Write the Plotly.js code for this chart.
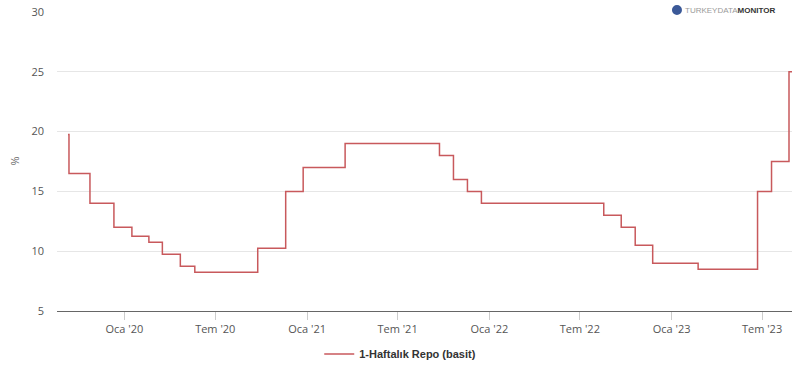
<!DOCTYPE html>
<html>
<head>
<meta charset="utf-8">
<script src="https://cdn.plot.ly/plotly-3.0.1.min.js"></script>
<style>html,body{margin:0;padding:0;background:#fff;}#chart{width:792px;height:365px;}</style>
</head>
<body>
<div id="chart"></div>
<script>
// Policy rate change dates and values (1-week repo, %)
const dates = ["2019-09-10","2019-09-12","2019-10-24","2019-12-11","2020-01-16","2020-02-19","2020-03-17","2020-04-22","2020-05-21","2020-09-24","2020-11-19","2020-12-24","2021-03-18","2021-09-23","2021-10-21","2021-11-18","2021-12-16","2022-08-18","2022-09-22","2022-10-20","2022-11-24","2023-02-23","2023-06-22","2023-07-20","2023-08-24","2023-08-31"];
const rates = [19.75,16.5,14,12,11.25,10.75,9.75,8.75,8.25,10.25,15,17,19,18,16,15,14,13,12,10.5,9,8.5,15,17.5,25,25];
const xTickVals = ["2020-01-01","2020-07-01","2021-01-01","2021-07-01","2022-01-01","2022-07-01","2023-01-01","2023-07-01"];
const xTickText = ["Oca '20","Tem '20","Oca '21","Tem '21","Oca '22","Tem '22","Oca '23","Tem '23"];
const yTickVals = [5,10,15,20,25,30];
const seriesName = "1-Haftalık Repo (basit)";

const trace = {
  x: dates, y: rates, type: "scatter", mode: "lines",
  line: {shape: "hv", color: "#c8595c", width: 1.5},
  name: seriesName, showlegend: true, hoverinfo: "x+y"
};

const logoX = 0.8435, logoY = 1.0066;

const layout = {
  width: 792, height: 365,
  margin: {l: 57, r: 0, t: 12, b: 54, autoexpand: false},
  paper_bgcolor: "#fff", plot_bgcolor: "#fff",
  font: {family: "Open Sans, DejaVu Sans, sans-serif", size: 11, color: "#666"},
  xaxis: {
    type: "date", range: ["2019-08-19", "2023-08-30"],
    tickvals: xTickVals, ticktext: xTickText,
    showgrid: false, zeroline: false, automargin: false,
    showline: true, linecolor: "#666", linewidth: 1,
    ticks: "outside", ticklen: 8, tickcolor: "#ccc", tickwidth: 1,
    tickfont: {family: "Open Sans, DejaVu Sans, sans-serif", size: 11, color: "#555"}
  },
  yaxis: {
    range: [5, 30], tickvals: yTickVals, automargin: false,
    showgrid: true, gridcolor: "#e6e6e6", gridwidth: 1,
    zeroline: false, showline: false, ticks: "",
    ticklabelstandoff: 12,
    tickfont: {family: "Open Sans, DejaVu Sans, sans-serif", size: 11, color: "#555"}
  },
  showlegend: true,
  legend: {
    orientation: "h", x: 0.467, xanchor: "center",
    yref: "container", y: 0.030, yanchor: "middle",
    font: {family: "Liberation Sans, Arial, sans-serif", size: 11, color: "#333", weight: "bold"},
    itemwidth: 30
  },
  shapes: [
    {type: "rect", xref: "paper", yref: "paper", xsizemode: "pixel", ysizemode: "pixel",
     xanchor: logoX, yanchor: logoY, x0: -15, x1: 106, y0: -8, y1: 8,
     fillcolor: "#fff", line: {width: 0}, layer: "above"},
    {type: "circle", xref: "paper", yref: "paper", xsizemode: "pixel", ysizemode: "pixel",
     xanchor: logoX, yanchor: logoY, x0: -5, x1: 5, y0: -5, y1: 5,
     fillcolor: "#3b5998", line: {width: 0}, layer: "above"},
    {type: "path", xref: "paper", yref: "paper", xsizemode: "pixel", ysizemode: "pixel",
     xanchor: logoX, yanchor: logoY,
     path: "M 0 0 L -5 0 A 5 5 0 0 0 0 -5 Z",
     fillcolor: "#d9534f", line: {width: 0}, layer: "above"},
    {type: "path", xref: "paper", yref: "paper", xsizemode: "pixel", ysizemode: "pixel",
     xanchor: logoX, yanchor: logoY,
     path: "M 0 0 L 0 5 A 5 5 0 0 0 -5 0 Z",
     fillcolor: "#e07a5f", line: {width: 0}, layer: "above"}
  ],
  annotations: [
    {text: "%", xref: "paper", yref: "paper", x: 0, y: 0.5, xanchor: "center", yanchor: "middle",
     xshift: -43, textangle: -90, showarrow: false,
     font: {family: "Open Sans, sans-serif", size: 11, color: "#666"}},
    {text: "<span style='color:#9a9a9a'>TURKEYDATA</span><b><span style='color:#333'>MONITOR</span></b>",
     xref: "paper", yref: "paper", x: logoX, y: logoY, xanchor: "left", yanchor: "middle",
     xshift: 6, showarrow: false,
     font: {family: "Liberation Sans, Arial, sans-serif", size: 8, color: "#333"}}
  ]
};

Plotly.newPlot("chart", [trace], layout, {displayModeBar: false, staticPlot: true});
</script>
</body>
</html>
